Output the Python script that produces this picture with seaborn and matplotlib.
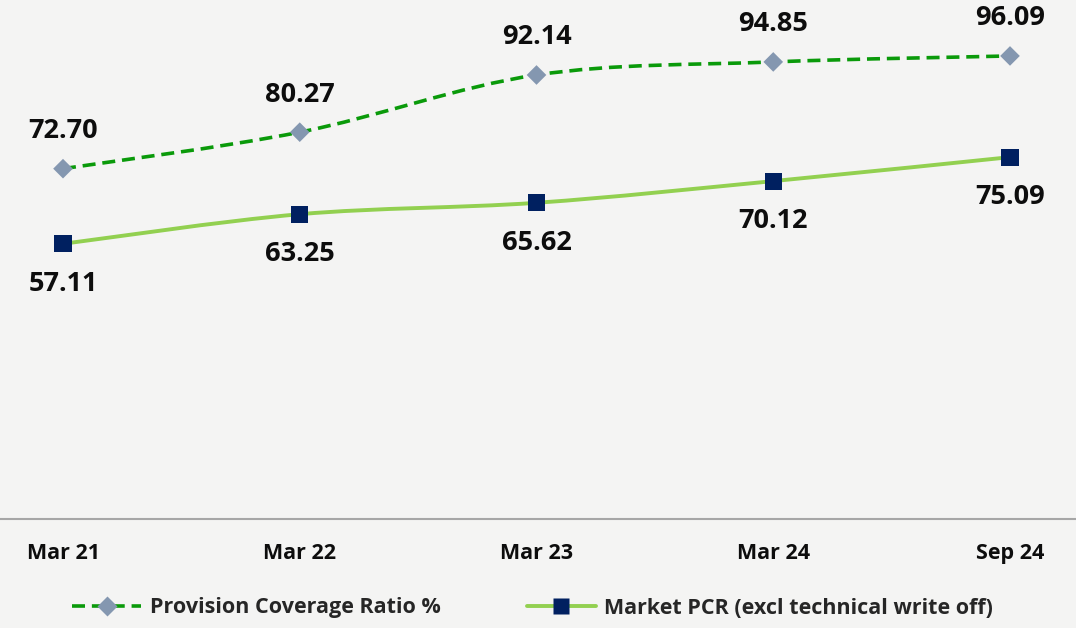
import numpy as np
import pandas as pd
import seaborn as sns
import matplotlib.pyplot as plt
from matplotlib.path import Path
from matplotlib.patches import PathPatch
from matplotlib.lines import Line2D

# data
periods = ['Mar 21', 'Mar 22', 'Mar 23', 'Mar 24', 'Sep 24']
pcr = [72.70, 80.27, 92.14, 94.85, 96.09]
market_pcr = [57.11, 63.25, 65.62, 70.12, 75.09]
pcr_name = 'Provision Coverage Ratio %'
market_name = 'Market PCR (excl technical write off)'

sns.set_theme(style='white')
plt.rcParams['font.family'] = ['Open Sans', 'DejaVu Sans']

bg = '#f4f4f3'
fig = plt.figure(figsize=(10.76, 6.28), dpi=100, facecolor=bg)
ax = fig.add_axes([0, 109 / 628, 1, 519 / 628])
ax.set_facecolor(bg)

df = pd.DataFrame({'period': periods, 'pcr': pcr, 'market': market_pcr})
df['pos'] = range(len(periods))


def smooth_path(xs, ys):
    # bezier segments through the points (catmull-rom style control points)
    pts = np.column_stack([xs, ys]).astype(float)
    ext = np.vstack([pts[0], pts, pts[-1]])
    verts = [pts[0]]
    codes = [Path.MOVETO]
    for i in range(len(pts) - 1):
        p0, p1, p2, p3 = ext[i], ext[i + 1], ext[i + 2], ext[i + 3]
        c1 = p1 + (p2 - p0) / 6
        c2 = p2 - (p3 - p1) / 6
        verts += [c1, c2, p2]
        codes += [Path.CURVE4] * 3
    return Path(verts, codes)


dark_green = '#0a9a0a'
light_green = '#92d050'
diamond_c = '#8497b0'
square_c = '#002060'

ax.add_patch(PathPatch(smooth_path(df['pos'], df['pcr']), fill=False,
                       edgecolor=dark_green, lw=2.6, linestyle=(0, (3.6, 1.9)),
                       capstyle='butt', zorder=2))
ax.add_patch(PathPatch(smooth_path(df['pos'], df['market']), fill=False,
                       edgecolor=light_green, lw=2.8, zorder=2))

sns.scatterplot(data=df, x='pos', y='pcr', marker='D', s=100, color=diamond_c,
                edgecolor='none', zorder=3, ax=ax)
sns.scatterplot(data=df, x='pos', y='market', marker='s', s=150, color=square_c,
                edgecolor='none', zorder=3, ax=ax)

# value labels
for i, row in df.iterrows():
    ax.annotate(f"{row['pcr']:.2f}", (row['pos'], row['pcr']), xytext=(0, 27),
                textcoords='offset points', ha='center', va='center',
                fontsize=19.5, fontweight='bold', color='#0d0d0d')
    ax.annotate(f"{row['market']:.2f}", (row['pos'], row['market']), xytext=(0, -29),
                textcoords='offset points', ha='center', va='center',
                fontsize=19.5, fontweight='bold', color='#0d0d0d')

ax.set_xlim(-63 / 236.75, (1076 - 63) / 236.75)
ax.set_ylim(0, 107.7)
ax.set_xticks(df['pos'])
ax.set_xticklabels(periods, fontsize=15.5, fontweight='bold', color='#0d0d0d')
ax.set_yticks([])
ax.tick_params(axis='x', length=0, pad=17)
ax.set_xlabel('')
ax.set_ylabel('')
for side in ['top', 'left', 'right']:
    ax.spines[side].set_visible(False)
ax.spines['bottom'].set_color('#a6a6a6')
ax.spines['bottom'].set_linewidth(1.5)

handles = [
    Line2D([], [], color=dark_green, lw=2.6, linestyle=(0, (3.6, 1.9)), marker='D',
           markersize=10, markerfacecolor=diamond_c, markeredgecolor='none'),
    Line2D([], [], color=light_green, lw=2.8, marker='s', markersize=12,
           markerfacecolor=square_c, markeredgecolor='none'),
]
fig.legend(handles, [pcr_name, market_name], loc='center', bbox_to_anchor=(0.495, 20 / 628),
           ncol=2, frameon=False, handlelength=3.2, columnspacing=4.0, handletextpad=0.4,
           prop={'size': 15.5, 'weight': 'bold'})

fig.savefig('out.png', dpi=100, facecolor=bg)
